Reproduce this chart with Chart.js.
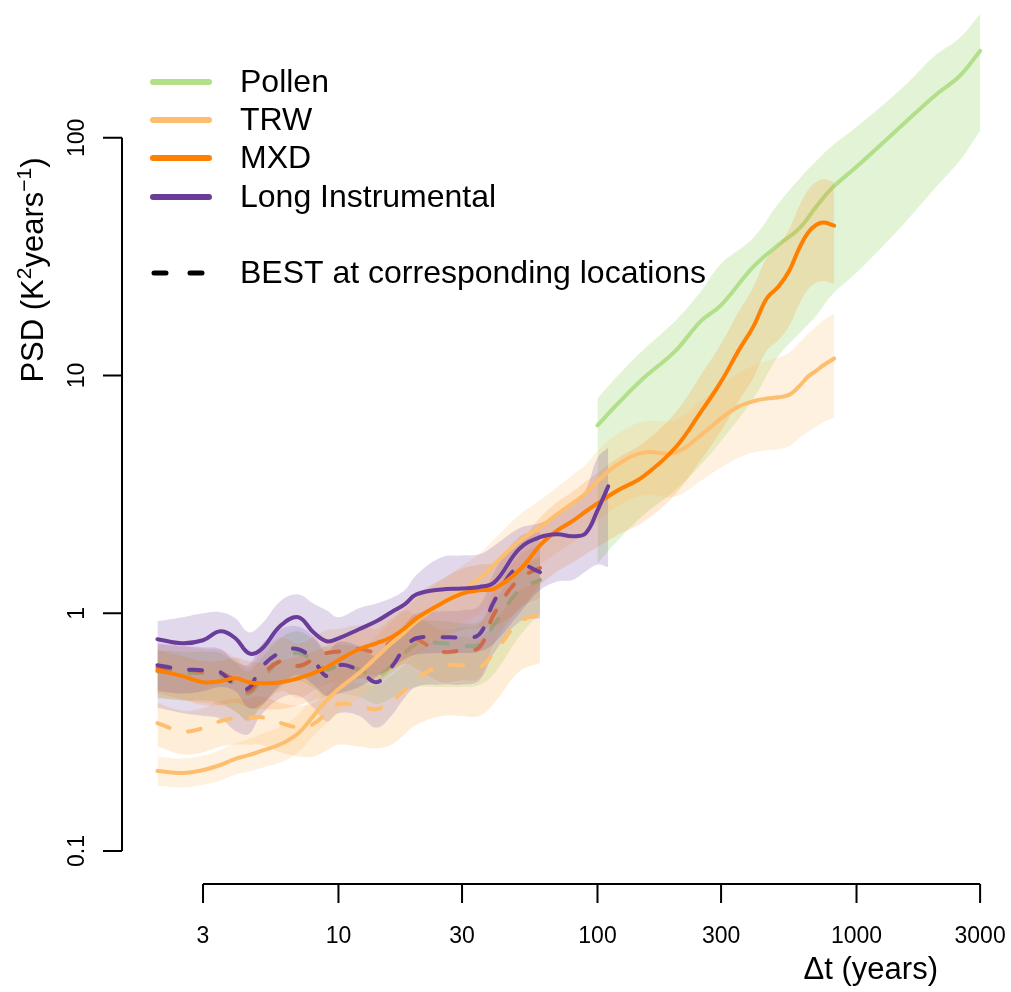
<!DOCTYPE html>
<html>
<head>
<meta charset="utf-8">
<script src="https://cdn.jsdelivr.net/npm/chart.js@4.4.1/dist/chart.umd.min.js"></script>
<style>
  html, body { margin: 0; padding: 0; background: #fff; }
  #wrap { width: 1011px; height: 992px; }
</style>
</head>
<body>
<div id="wrap"><canvas id="psdChart" width="1011" height="992"></canvas></div>
<script>
// time scales (years)
const dtShort  = [2, 2.5, 3, 3.5, 4, 4.5, 5, 6, 7, 8, 9, 10, 12, 14, 16, 18, 20, 25, 30, 35, 40, 50, 60];
const dtInstr  = [2, 2.5, 3, 3.5, 4, 4.5, 5, 6, 7, 8, 9, 10, 12, 14, 16, 18, 20, 25, 30, 35, 40, 50, 60, 70, 80, 90, 100, 110];
const dtTree   = [2, 2.5, 3, 3.5, 4, 4.5, 5, 6, 7, 8, 9, 10, 12, 14, 16, 18, 20, 25, 30, 35, 40, 50, 60, 70, 80, 90, 100,
                  120, 150, 200, 250, 300, 350, 400, 450, 500, 550, 600, 650, 700, 750, 820];
const dtPollen = [100, 120, 150, 200, 250, 300, 400, 500, 600, 700, 800, 1000, 1500, 2000, 2500, 3000];

// proxy spectra + confidence bands
const psdPollen = [6.17, 7.63, 9.71, 12.7, 16.9, 19.8, 28.7, 35.5, 41.5, 51.4, 61.1, 75.5, 113, 150, 182, 232];
const pollenHi  = [8.0, 10.0, 12.8, 17.0, 22.5, 29.5, 38, 53, 67, 80, 92, 111, 162, 221, 263, 332];
const pollenLo  = [1.62, 2.03, 2.58, 3.29, 4.2, 5.3, 8.0, 12.1, 15.0, 17.9, 21.7, 27.1, 42.7, 61, 80, 107];

const psdTRW = [0.217, 0.213, 0.219, 0.230, 0.244, 0.253, 0.263, 0.282, 0.313, 0.37, 0.43, 0.48, 0.56, 0.653, 0.748, 0.832,
                0.925, 1.10, 1.25, 1.40, 1.61, 2.01, 2.30, 2.61, 2.90, 3.19, 3.6, 4.23, 4.74, 4.74, 5.6, 6.6, 7.4, 7.8,
                8.0, 8.1, 8.3, 9.0, 9.9, 10.5, 11.1, 11.8];
const trwHi  = [0.25, 0.245, 0.252, 0.266, 0.283, 0.295, 0.31, 0.335, 0.375, 0.455, 0.52, 0.585, 0.68, 0.80, 0.92, 1.03,
                1.15, 1.38, 1.58, 1.78, 2.06, 2.6, 2.99, 3.41, 3.81, 4.21, 4.8, 5.7, 6.4, 6.5, 7.8, 9.1, 10.2, 11.0,
                11.5, 11.9, 12.5, 13.7, 15.0, 16.1, 17.2, 18.2];
const trwLo  = [0.188, 0.185, 0.19, 0.198, 0.21, 0.216, 0.223, 0.236, 0.26, 0.305, 0.345, 0.38, 0.44, 0.505, 0.57, 0.625,
                0.69, 0.81, 0.91, 1.0, 1.14, 1.41, 1.6, 1.8, 1.98, 2.17, 2.43, 2.83, 3.14, 3.1, 3.6, 4.1, 4.5, 4.75,
                4.85, 4.9, 5.05, 5.45, 5.8, 6.1, 6.4, 6.66];

const psdMXD = [0.576, 0.544, 0.513, 0.518, 0.533, 0.513, 0.508, 0.513, 0.533, 0.56, 0.593, 0.635, 0.706, 0.748, 0.793, 0.865,
                0.953, 1.10, 1.21, 1.25, 1.27, 1.52, 1.93, 2.23, 2.44, 2.68, 2.90, 3.29, 3.76, 4.98, 7.0, 9.43, 12.7, 16.1,
                21.1, 23.7, 27.6, 34.2, 39.9, 43.1, 44.0, 42.7];
const mxdHi  = [0.70, 0.66, 0.63, 0.63, 0.65, 0.63, 0.62, 0.63, 0.66, 0.69, 0.73, 0.78, 0.87, 0.93, 0.99, 1.08,
                1.20, 1.39, 1.54, 1.60, 1.64, 1.98, 2.53, 2.94, 3.24, 3.58, 3.9, 4.5, 5.2, 7.0, 10.0, 13.6, 18.5, 23.6,
                31.2, 35.3, 41.4, 51.5, 60.3, 65.3, 66.9, 65.0];
const mxdLo  = [0.46, 0.435, 0.41, 0.41, 0.42, 0.40, 0.395, 0.395, 0.41, 0.43, 0.45, 0.48, 0.53, 0.55, 0.58, 0.62,
                0.68, 0.78, 0.85, 0.87, 0.88, 1.04, 1.31, 1.50, 1.63, 1.77, 1.90, 2.14, 2.42, 3.17, 4.40, 5.86, 7.8, 9.8,
                12.7, 14.1, 16.2, 19.9, 23.0, 24.6, 25.0, 24.3];

const psdInstr = [0.778, 0.748, 0.77, 0.84, 0.785, 0.68, 0.70, 0.89, 0.962, 0.832, 0.763, 0.785, 0.857, 0.925, 1.01, 1.09,
                  1.20, 1.26, 1.27, 1.29, 1.35, 1.87, 2.09, 2.15, 2.11, 2.17, 2.71, 3.42];
const instrHi  = [0.925, 0.962, 1.0, 1.01, 0.953, 0.832, 0.89, 1.13, 1.20, 1.10, 1.03, 0.962, 1.05, 1.10, 1.16, 1.25,
                  1.45, 1.72, 1.75, 1.77, 1.93, 2.28, 2.4, 2.6, 2.84, 3.3, 4.5, 4.98];
const instrLo  = [0.47, 0.46, 0.47, 0.49, 0.47, 0.40, 0.41, 0.50, 0.55, 0.50, 0.45, 0.46, 0.49, 0.54, 0.59, 0.64,
                  0.67, 0.68, 0.68, 0.69, 0.75, 1.0, 1.25, 1.36, 1.38, 1.5, 1.6, 1.56];

// BEST at corresponding locations
const bestPollen   = [0.57, 0.56, 0.56, 0.55, 0.50, 0.46, 0.52, 0.64, 0.68, 0.63, 0.58, 0.60, 0.58, 0.54, 0.60, 0.68, 0.74, 0.75, 0.73, 0.74, 0.90, 1.25, 1.38];
const bestPollenHi = [0.70, 0.69, 0.69, 0.68, 0.62, 0.57, 0.64, 0.79, 0.84, 0.78, 0.72, 0.74, 0.72, 0.67, 0.74, 0.84, 0.92, 0.93, 0.91, 0.92, 1.12, 1.55, 1.72];
const bestPollenLo = [0.44, 0.43, 0.43, 0.42, 0.385, 0.355, 0.40, 0.49, 0.52, 0.485, 0.445, 0.46, 0.445, 0.415, 0.44, 0.47, 0.49, 0.49, 0.49, 0.50, 0.56, 0.80, 1.0];

const bestTRW   = [0.345, 0.319, 0.329, 0.352, 0.362, 0.362, 0.366, 0.345, 0.332, 0.342, 0.38, 0.415, 0.407, 0.395, 0.427, 0.475, 0.533, 0.599, 0.605, 0.593, 0.686, 0.917, 0.99];
const bestTRWHi = [0.42, 0.39, 0.40, 0.43, 0.44, 0.44, 0.45, 0.42, 0.41, 0.42, 0.47, 0.52, 0.51, 0.50, 0.55, 0.61, 0.69, 0.78, 0.80, 0.79, 0.92, 1.25, 1.35];
const bestTRWLo = [0.275, 0.255, 0.26, 0.275, 0.28, 0.28, 0.28, 0.26, 0.25, 0.25, 0.265, 0.28, 0.275, 0.27, 0.28, 0.31, 0.34, 0.37, 0.37, 0.37, 0.42, 0.57, 0.62];

const bestMXD   = [0.59, 0.58, 0.57, 0.56, 0.52, 0.47, 0.54, 0.63, 0.60, 0.64, 0.68, 0.69, 0.71, 0.69, 0.76, 0.82, 0.78, 0.69, 0.70, 0.72, 1.0, 1.40, 1.55];
const bestMXDHi = [0.74, 0.73, 0.71, 0.70, 0.65, 0.59, 0.68, 0.79, 0.75, 0.80, 0.85, 0.86, 0.89, 0.86, 0.95, 1.03, 0.98, 0.86, 0.88, 0.90, 1.25, 1.75, 1.95];
const bestMXDLo = [0.44, 0.43, 0.42, 0.41, 0.385, 0.35, 0.40, 0.47, 0.44, 0.47, 0.50, 0.51, 0.53, 0.51, 0.56, 0.61, 0.58, 0.51, 0.52, 0.53, 0.74, 1.04, 1.15];

const bestInstr   = [0.605, 0.582, 0.576, 0.565, 0.498, 0.484, 0.587, 0.686, 0.706, 0.635, 0.544, 0.605, 0.576, 0.513, 0.593, 0.713, 0.785, 0.793, 0.793, 0.816, 1.13, 1.58, 1.49];
const bestInstrHi = [0.75, 0.73, 0.72, 0.71, 0.63, 0.61, 0.73, 0.86, 0.88, 0.80, 0.69, 0.76, 0.73, 0.66, 0.76, 0.90, 1.00, 1.02, 1.03, 1.08, 1.50, 2.10, 2.20];
const bestInstrLo = [0.40, 0.38, 0.37, 0.36, 0.32, 0.31, 0.37, 0.44, 0.45, 0.40, 0.35, 0.38, 0.37, 0.33, 0.37, 0.44, 0.49, 0.50, 0.50, 0.52, 0.68, 0.92, 0.95];

const xTicks = [3, 10, 30, 100, 300, 1000, 3000];
const yTicks = [0.1, 1, 10, 100];

const legendNames = ['Pollen', 'TRW', 'MXD', 'Long Instrumental'];
const legendColors = ['#b2df8a', '#fdbf6f', '#ff7f00', '#6a3d9a'];

const FONT = '"Liberation Sans", Arial, Helvetica, sans-serif';

const toPts = (xs, ys) => xs.map((x, i) => ({ x: x, y: ys[i] }));

const datasets = [];
function addBand(xs, lo, hi, fillColor, edge) {
  datasets.push({ data: toPts(xs, lo), borderColor: edge || 'rgba(0,0,0,0)', borderWidth: edge ? 0.8 : 0, fill: false });
  datasets.push({ data: toPts(xs, hi), borderColor: edge || 'rgba(0,0,0,0)', borderWidth: edge ? 0.8 : 0,
                  fill: '-1', backgroundColor: fillColor });
}
function addLine(xs, ys, color, dashed) {
  datasets.push({ data: toPts(xs, ys), borderColor: color, borderWidth: 4,
                  borderDash: dashed ? [13, 19] : [], borderCapStyle: 'round', borderJoinStyle: 'round', fill: false });
}

const edge = 'rgba(255,255,255,0.4)';
// drawn first -> last
addBand(dtShort, bestPollenLo, bestPollenHi, 'rgba(178,223,138,0.35)', edge);
addBand(dtShort, bestTRWLo, bestTRWHi, 'rgba(253,191,111,0.28)', edge);
addBand(dtShort, bestMXDLo, bestMXDHi, 'rgba(255,127,0,0.14)', edge);
addBand(dtShort, bestInstrLo, bestInstrHi, 'rgba(106,61,154,0.18)', edge);
addLine(dtShort, bestPollen, '#a3bf82', true);
addLine(dtShort, bestTRW, '#fdbf6f', true);
addLine(dtShort, bestMXD, '#e8763a', true);

addBand(dtPollen, pollenLo, pollenHi, 'rgba(178,223,138,0.36)');
addLine(dtPollen, psdPollen, '#b2df8a', false);
addBand(dtTree, trwLo, trwHi, 'rgba(253,191,111,0.22)');
addBand(dtTree, mxdLo, mxdHi, 'rgba(255,127,0,0.17)');
addBand(dtInstr, instrLo, instrHi, 'rgba(106,61,154,0.2)');

addLine(dtShort, bestInstr, '#6a3d9a', true);
addLine(dtTree, psdTRW, '#fdbf6f', false);
addLine(dtTree, psdMXD, '#ff7f00', false);
addLine(dtInstr, psdInstr, '#6a3d9a', false);

datasets.forEach((d, i) => {
  d.order = datasets.length - i;
  d.pointRadius = 0;
  d.pointHoverRadius = 0;
  d.tension = 0.4;
});

const rAxes = {
  id: 'rAxes',
  afterDraw(chart) {
    const ctx = chart.ctx;
    const xs = chart.scales.x, ys = chart.scales.y;
    const area = chart.chartArea;
    ctx.save();
    ctx.strokeStyle = '#000';
    ctx.fillStyle = '#000';
    ctx.lineWidth = 2;
    ctx.lineCap = 'butt';

    // x axis
    const xa = area.bottom;
    ctx.beginPath();
    ctx.moveTo(xs.getPixelForValue(xTicks[0]), xa);
    ctx.lineTo(xs.getPixelForValue(xTicks[xTicks.length - 1]), xa);
    xTicks.forEach(t => {
      const px = xs.getPixelForValue(t);
      ctx.moveTo(px, xa);
      ctx.lineTo(px, xa + 19);
    });
    ctx.stroke();
    ctx.font = '23px ' + FONT;
    ctx.textAlign = 'center';
    ctx.textBaseline = 'middle';
    xTicks.forEach(t => ctx.fillText(String(t), xs.getPixelForValue(t), 937));

    // y axis
    const ya = area.left;
    ctx.beginPath();
    ctx.moveTo(ya, ys.getPixelForValue(yTicks[0]));
    ctx.lineTo(ya, ys.getPixelForValue(yTicks[yTicks.length - 1]));
    yTicks.forEach(t => {
      const py = ys.getPixelForValue(t);
      ctx.moveTo(ya, py);
      ctx.lineTo(ya - 19, py);
    });
    ctx.stroke();
    yTicks.forEach(t => {
      ctx.save();
      ctx.translate(78, ys.getPixelForValue(t));
      ctx.rotate(-Math.PI / 2);
      ctx.fillText(String(t), 0, 0);
      ctx.restore();
    });

    // axis titles
    ctx.font = '31px ' + FONT;
    ctx.textAlign = 'right';
    ctx.fillText('\u0394t (years)', 938, 970);

    const parts = [['PSD (K', 31, 0], ['2', 21, -12], ['years', 31, 0], ['\u22121', 21, -12], [')', 31, 0]];
    let total = 0;
    parts.forEach(p => { ctx.font = p[1] + 'px ' + FONT; total += ctx.measureText(p[0]).width; });
    ctx.save();
    ctx.translate(32, 270);
    ctx.rotate(-Math.PI / 2);
    ctx.textAlign = 'left';
    ctx.textBaseline = 'alphabetic';
    let cx = -total / 2;
    parts.forEach(p => {
      ctx.font = p[1] + 'px ' + FONT;
      ctx.fillText(p[0], cx, 11 + p[2]);
      cx += ctx.measureText(p[0]).width;
    });
    ctx.restore();

    // legend
    ctx.lineCap = 'round';
    ctx.lineWidth = 6;
    ctx.font = '32px ' + FONT;
    ctx.textAlign = 'left';
    ctx.textBaseline = 'middle';
    const rows = [82, 120, 158, 197];
    legendNames.forEach((name, i) => {
      ctx.strokeStyle = legendColors[i];
      ctx.beginPath();
      ctx.moveTo(153, rows[i]);
      ctx.lineTo(209, rows[i]);
      ctx.stroke();
      ctx.fillStyle = '#000';
      ctx.fillText(name, 240, rows[i] + 1);
    });
    ctx.strokeStyle = '#000';
    ctx.lineWidth = 5;
    ctx.beginPath();
    ctx.moveTo(154, 273); ctx.lineTo(166, 273);
    ctx.moveTo(190, 273); ctx.lineTo(202, 273);
    ctx.stroke();
    ctx.fillText('BEST at corresponding locations', 240, 274);
    ctx.restore();
  }
};

new Chart(document.getElementById('psdChart').getContext('2d'), {
  type: 'line',
  data: { datasets: datasets },
  options: {
    responsive: false,
    devicePixelRatio: 1,
    animation: false,
    layout: { padding: { left: 122, right: 0, top: 0, bottom: 108 } },
    scales: {
      x: { type: 'logarithmic', min: 1.46, max: 3948, bounds: 'data', display: false },
      y: { type: 'logarithmic', min: 0.07264, max: 380, bounds: 'data', display: false }
    },
    plugins: {
      legend: { display: false },
      tooltip: { enabled: false }
    },
    events: []
  },
  plugins: [rAxes]
});
</script>
</body>
</html>
